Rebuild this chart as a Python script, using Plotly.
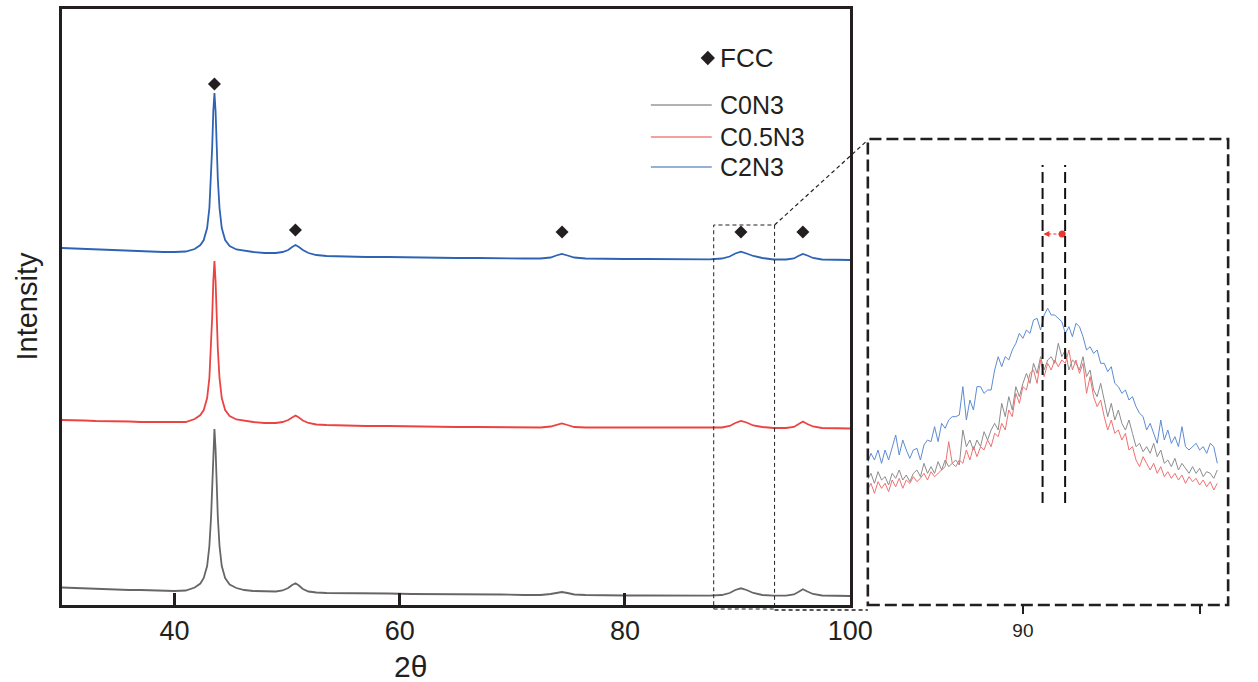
import plotly.graph_objects as go

# ---------------- data ----------------
two_theta_main = [30, 31, 32, 33, 34, 35, 36, 37, 38, 39,
                  40, 41, 41.8, 42.3, 42.6, 42.9, 43.1, 43.25, 43.35, 43.45,
                  43.55, 43.65, 43.75, 43.85, 44.0, 44.2, 44.5, 44.9, 45.5, 46.2,
                  47, 48, 49, 49.6, 50.1, 50.45, 50.75, 51.05, 51.4, 51.9,
                  52.6, 53.5, 55, 57, 59, 61, 63, 65, 67, 69,
                  71, 72.5, 73.4, 73.9, 74.4, 74.9, 75.5, 76.5, 78, 80,
                  82, 84, 86, 87.5, 88.6, 89.3, 89.8, 90.3, 90.8, 91.4,
                  92.2, 93.2, 94.3, 95.0, 95.4, 95.8, 96.2, 96.7, 97.5, 98.5,
                  100]

c2n3_main = [357, 356.5, 356, 355.5, 355, 354.5, 354, 354, 353.5, 353,
             353, 353.5, 356, 360, 365, 377, 397, 426, 458, 494,
             512, 494, 458, 426, 397, 377, 365, 359, 355.5, 354,
             353, 352, 352, 353, 355, 358, 360, 358, 355, 352,
             350, 349, 348.5, 348, 348, 347.5, 347.5, 347, 347, 346.5,
             346.5, 346.5, 347.5, 349.5, 351, 349.5, 347.5, 346.5, 346, 346,
             346, 345.7, 345.7, 345.7, 346.5, 348.5, 351.5, 353.3, 351.5, 349,
             347, 345.5, 345.5, 346.5, 349, 351, 349.5, 347, 345.5, 345,
             345]

c05n3_main = [185, 185, 184.5, 184, 184, 183.5, 183.5, 183, 183, 182.5,
              182.5, 183, 186, 190, 195, 207, 227, 256, 288, 324,
              344, 324, 288, 256, 227, 207, 195, 189, 185.5, 184,
              183, 182, 182, 183, 185, 187.5, 189.5, 187.5, 184.5, 182,
              180.5, 180, 179.5, 179, 179, 178.5, 178.5, 178, 178, 178,
              177.5, 177.5, 178.5, 180, 181.5, 180, 178, 177.5, 177.5, 177.5,
              177.3, 177.3, 177.3, 177.3, 177.5, 179, 182, 184, 182.5, 179.5,
              178, 177, 177, 178, 180.5, 183.5, 181, 178.5, 177, 176.7,
              176.5]

c0n3_main = [17.5, 17, 16.5, 16, 15.5, 15.5, 15, 15, 14.5, 14.5,
             14, 14.5, 17.5, 21.5, 27, 39, 59, 88, 120, 156,
             176, 156, 120, 88, 59, 39, 27, 20.5, 17, 15,
             14, 13.5, 13.5, 14.5, 17, 20, 21.7, 19.5, 16, 13.5,
             12.5, 12, 12, 11.5, 11.5, 11, 11, 10.5, 10.5, 10.5,
             10, 10, 11, 12, 13, 12, 10.5, 10, 9.5, 9.5,
             9.5, 9.3, 9.3, 9.3, 10, 12, 15, 16.7, 15, 12,
             10, 9.3, 9.3, 10.5, 13, 15.7, 13.5, 11, 9.5, 9,
             9]

fcc_peaks = [43.55, 50.74, 74.42, 90.3, 95.8]
fcc_marker_y = [521, 375, 373, 373, 373]

two_theta_inset = [87.80, 87.85, 87.90, 87.95, 88.00, 88.05, 88.10, 88.15, 88.20, 88.25,
                   88.30, 88.35, 88.40, 88.45, 88.50, 88.55, 88.60, 88.65, 88.70, 88.75,
                   88.80, 88.85, 88.90, 88.95, 89.00, 89.05, 89.10, 89.15, 89.20, 89.25,
                   89.30, 89.35, 89.40, 89.45, 89.50, 89.55, 89.60, 89.65, 89.70, 89.75,
                   89.80, 89.85, 89.90, 89.95, 90.00, 90.05, 90.10, 90.15, 90.20, 90.25,
                   90.30, 90.35, 90.40, 90.45, 90.50, 90.55, 90.60, 90.65, 90.70, 90.75,
                   90.80, 90.85, 90.90, 90.95, 91.00, 91.05, 91.10, 91.15, 91.20, 91.25,
                   91.30, 91.35, 91.40, 91.45, 91.50, 91.55, 91.60, 91.65, 91.70, 91.75,
                   91.80, 91.85, 91.90, 91.95, 92.00, 92.05, 92.10, 92.15, 92.20, 92.25,
                   92.30, 92.35, 92.40, 92.45, 92.50, 92.55, 92.60, 92.65, 92.70, 92.75]

c2n3_inset = [425, 455, 435, 465, 425, 465, 435, 475, 510, 450,
              495, 465, 440, 465, 470, 435, 480, 495, 490, 535,
              490, 545, 530, 555, 565, 565, 570, 655, 555, 615,
              585, 655, 655, 635, 645, 645, 705, 745, 715, 745,
              735, 765, 785, 815, 800, 825, 815, 855, 860, 825,
              870, 890, 870, 870, 860, 850, 815, 835, 805, 845,
              835, 805, 765, 775, 755, 765, 725, 725, 700, 715,
              665, 655, 635, 645, 615, 625, 595, 575, 565, 525,
              545, 515, 485, 555, 495, 525, 485, 505, 475, 535,
              475, 465, 475, 485, 465, 475, 455, 485, 475, 425]

c0n3_inset = [375, 395, 365, 400, 375, 385, 360, 395, 380, 405,
              375, 390, 370, 395, 405, 385, 425, 395, 415, 395,
              430, 405, 435, 415, 425, 435, 420, 525, 475, 495,
              465, 495, 475, 520, 495, 525, 545, 525, 605, 565,
              625, 585, 655, 625, 665, 695, 665, 725, 695, 745,
              705, 735, 745, 725, 785, 745, 765, 705, 735, 725,
              705, 745, 685, 705, 645, 625, 665, 615, 565, 605,
              555, 585, 545, 525, 555, 515, 475, 485, 460, 475,
              455, 485, 445, 465, 425, 435, 415, 440, 405, 425,
              410, 395, 415, 395, 410, 385, 400, 395, 380, 405]

c05n3_inset = [345, 365, 335, 370, 350, 365, 340, 375, 355, 380,
               350, 375, 365, 385, 370, 380, 395, 375, 400, 385,
               395, 405, 415, 490, 425, 415, 435, 425, 465, 435,
               475, 445, 475, 465, 495, 475, 515, 505, 545, 525,
               585, 565, 635, 605, 655, 645, 695, 705, 665, 735,
               685, 725, 705, 735, 715, 735, 725, 765, 705, 735,
               695, 725, 635, 685, 625, 595, 615, 565, 525, 555,
               515, 525, 495, 515, 465, 475, 435, 415, 445, 425,
               405, 425, 395, 415, 385, 400, 380, 395, 375, 390,
               365, 385, 370, 380, 360, 375, 355, 370, 345, 365]

series_names = ["C0N3", "C0.5N3", "C2N3"]
main_colors = ["#666666", "#ea4341", "#2e63b3"]
inset_colors = ["#8c8c8c", "#f07070", "#5d8bd2"]
peak_label = "FCC"

# ---------------- figure ----------------
W, H = 1258, 682
FONT = "Liberation Sans, Arial, sans-serif"
INK = "#231f20"


def px(x):
    return x / W


def py(y):
    return 1 - y / H


fig = go.Figure()

main_series = [c0n3_main, c05n3_main, c2n3_main]
inset_series = [c0n3_inset, c05n3_inset, c2n3_inset]

for name, ys, col in zip(series_names, main_series, main_colors):
    fig.add_trace(go.Scatter(x=two_theta_main, y=ys, mode="lines", name=name,
                             line=dict(color=col, width=1.8), showlegend=False,
                             xaxis="x", yaxis="y"))

fig.add_trace(go.Scatter(x=fcc_peaks, y=fcc_marker_y, mode="markers", name=peak_label,
                         marker=dict(symbol="diamond", size=10, color=INK),
                         showlegend=False, xaxis="x", yaxis="y"))

for name, ys, col in zip(series_names, inset_series, inset_colors):
    fig.add_trace(go.Scatter(x=two_theta_inset, y=ys, mode="lines", name=name,
                             line=dict(color=col, width=1), showlegend=False,
                             xaxis="x2", yaxis="y2"))

# red shift arrow in inset
fig.add_trace(go.Scatter(x=[90.555], y=[1113], mode="markers",
                         marker=dict(symbol="circle", size=7, color="#ee3333"),
                         showlegend=False, xaxis="x2", yaxis="y2"))

# legend diamond (manual legend)
fig.add_trace(go.Scatter(x=[87.36], y=[547], mode="markers",
                         marker=dict(symbol="diamond", size=11, color=INK),
                         showlegend=False, xaxis="x", yaxis="y", cliponaxis=False))

shapes = []
dash_small = "4px,3px"
# dashed zoom box in main plot
shapes.append(dict(type="rect", xref="paper", yref="paper",
                   x0=px(727), x1=px(789), y0=py(609), y1=py(225),
                   line=dict(color=INK, width=1, dash=dash_small)))
# connector lines
shapes.append(dict(type="line", xref="paper", yref="paper",
                   x0=px(789), y0=py(225), x1=px(884), y1=py(140),
                   line=dict(color=INK, width=1.2, dash=dash_small)))
shapes.append(dict(type="line", xref="paper", yref="paper",
                   x0=px(789), y0=py(610), x1=px(884), y1=py(610),
                   line=dict(color=INK, width=1.5, dash=dash_small)))
# inset dashed frame
shapes.append(dict(type="rect", xref="paper", yref="paper",
                   x0=px(884), x1=px(1251), y0=py(605), y1=py(139),
                   line=dict(color=INK, width=2.6, dash="12px,5px")))
# vertical dashed guide lines in inset
for xv in [90.278, 90.597]:
    shapes.append(dict(type="line", xref="x2", yref="y2",
                       x0=xv, x1=xv, y0=306, y1=1320,
                       line=dict(color="#111111", width=2, dash="11px,5px")))
# dashed red arrow shaft
shapes.append(dict(type="line", xref="x2", yref="y2",
                   x0=90.36, x1=90.545, y0=1113, y1=1113,
                   line=dict(color="#ee3333", width=1.2, dash="3px,2px")))
# manual legend lines
for yv, col in zip([105, 137, 167], main_colors):
    shapes.append(dict(type="line", xref="paper", yref="paper",
                       x0=px(663), x1=px(725), y0=py(yv), y1=py(yv),
                       line=dict(color=col, width=1.2)))

annotations = []
annotations.append(dict(x=90.29, y=1113, ax=90.37, ay=1113, xref="x2", yref="y2",
                        axref="x2", ayref="y2", text="", showarrow=True,
                        arrowhead=2, arrowsize=1, arrowwidth=1.2, arrowcolor="#ee3333"))
annotations.append(dict(x=px(731), y=py(58), xref="paper", yref="paper", text=peak_label,
                        showarrow=False, xanchor="left", yanchor="middle",
                        font=dict(family=FONT, size=26, color=INK)))
for yv, name in zip([105, 137, 167], series_names):
    annotations.append(dict(x=px(731), y=py(yv), xref="paper", yref="paper", text=name,
                            showarrow=False, xanchor="left", yanchor="middle",
                            font=dict(family=FONT, size=25, color=INK)))
annotations.append(dict(x=px(418), y=py(666), xref="paper", yref="paper", text="2θ",
                        showarrow=False, xanchor="center", yanchor="middle",
                        font=dict(family=FONT, size=30, color=INK)))
annotations.append(dict(x=px(27), y=py(306), xref="paper", yref="paper", text="Intensity",
                        showarrow=False, xanchor="center", yanchor="middle", textangle=-90,
                        font=dict(family=FONT, size=29, color=INK)))

fig.update_layout(
    width=W, height=H, autosize=False,
    margin=dict(l=0, r=0, t=0, b=0),
    paper_bgcolor="white", plot_bgcolor="white",
    font=dict(family=FONT, color=INK),
    showlegend=False,
    xaxis=dict(domain=[px(63), px(866)], range=[30, 100],
               tickvals=[40, 60, 80, 100], ticks="inside", ticklen=12, tickwidth=3,
               tickcolor=INK, showline=True, linewidth=3, linecolor=INK, mirror=True,
               showgrid=False, zeroline=False, tickfont=dict(size=27, color=INK),
               anchor="y"),
    yaxis=dict(domain=[py(605), py(9)], range=[0, 596], showticklabels=False,
               ticks="", showline=True, linewidth=3, linecolor=INK, mirror=True,
               showgrid=False, zeroline=False, anchor="x"),
    xaxis2=dict(domain=[px(884), px(1251)], range=[87.806, 92.903],
                tickvals=[90, 92.5], ticktext=["90", ""], ticks="outside", ticklen=8,
                tickwidth=2, tickcolor=INK, showline=False, showgrid=False,
                zeroline=False, tickfont=dict(size=19, color=INK), anchor="y2"),
    yaxis2=dict(domain=[py(605), py(139)], range=[0, 1398], visible=False,
                showgrid=False, zeroline=False, anchor="x2"),
    shapes=shapes,
    annotations=annotations,
)

fig.write_html("out.html", config={"displayModeBar": False, "responsive": False},
               default_width="1258px", default_height="682px")
